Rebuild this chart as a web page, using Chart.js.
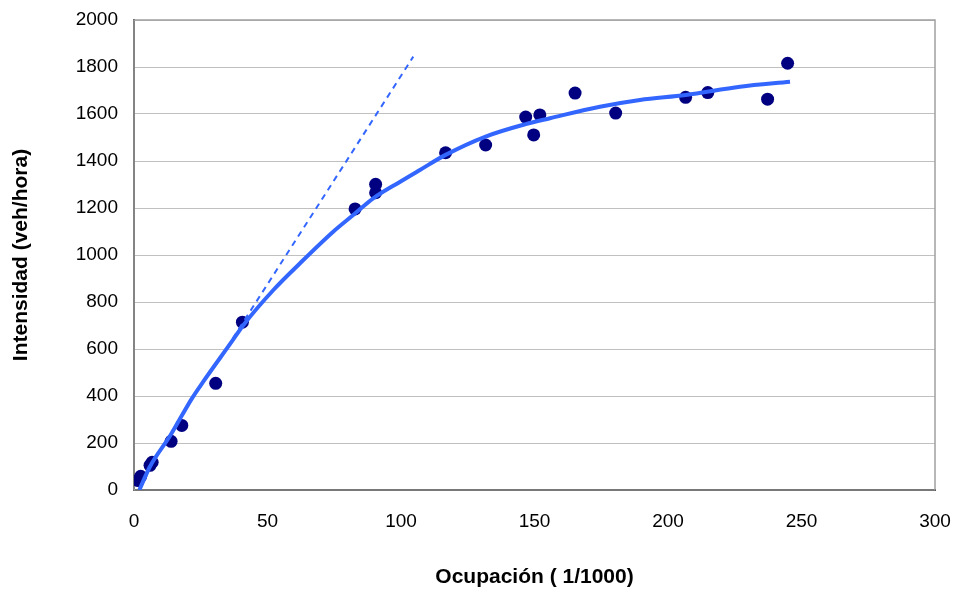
<!DOCTYPE html>
<html>
<head>
<meta charset="utf-8">
<script src="https://cdn.jsdelivr.net/npm/chart.js@4/dist/chart.umd.min.js"></script>
<style>
  html, body { margin: 0; padding: 0; background: #ffffff; }
  #wrap { width: 956px; height: 592px; position: relative; }
</style>
</head>
<body>
<div id="wrap"><canvas id="c" width="956" height="592"></canvas></div>
<script>
// Observed points (ocupación, intensidad)
const obsOcupacion = [1.5, 2.5, 6, 6.8, 13.9, 17.9, 30.6, 40.6, 82.8, 90.5, 90.5, 116.7, 131.7, 146.7, 149.7, 152, 165.2, 180.4, 206.6, 214.9, 237.3, 244.8];
const obsIntensidad = [40, 58, 105, 118, 207, 275, 454, 714, 1196, 1265, 1301, 1435, 1468, 1587, 1511, 1596, 1689, 1604, 1671, 1691, 1663, 1816];

// Fitted curve
const curveOcupacion = [2, 6, 13.7, 21.6, 26, 36.6, 41, 52.2, 62.2, 74.6, 82.1, 89.6, 99.7, 107.1, 116.7, 131.7, 146.7, 155.8, 174.5, 189.5, 206.6, 227, 245.7];
const curveIntensidad = [0, 100, 234, 388, 462, 631, 702, 851, 965, 1099, 1170, 1241, 1312, 1362, 1426, 1504, 1557, 1582, 1631, 1660, 1681, 1716, 1737];

// Dashed tangent line
const tangentOcupacion = [37, 104.6];
const tangentIntensidad = [645, 1844];

// Axis ticks
const xTicks = [0, 50, 100, 150, 200, 250, 300];
const yTicks = [0, 200, 400, 600, 800, 1000, 1200, 1400, 1600, 1800, 2000];

const toXY = (xs, ys) => xs.map((x, i) => ({ x: x, y: ys[i] }));

const frame = {
  id: 'frame',
  beforeDatasetsDraw(chart) {
    const { ctx, chartArea: a } = chart;
    ctx.save();
    ctx.strokeStyle = '#a0a0a0';
    ctx.lineWidth = 1.5;
    ctx.strokeRect(a.left, a.top, a.right - a.left, a.bottom - a.top);
    ctx.restore();
  }
};

const FONT = '"Liberation Sans", Arial, sans-serif';

new Chart(document.getElementById('c'), {
  type: 'scatter',
  data: {
    datasets: [
      {
        label: 'Curva',
        type: 'line',
        data: toXY(curveOcupacion, curveIntensidad),
        borderColor: '#3366FF',
        borderWidth: 4,
        pointRadius: 0,
        fill: false,
        cubicInterpolationMode: 'monotone',
        order: 0
      },
      {
        label: 'Tangente',
        type: 'line',
        data: toXY(tangentOcupacion, tangentIntensidad),
        borderColor: '#3366FF',
        borderWidth: 2,
        borderDash: [6, 5],
        pointRadius: 0,
        fill: false,
        order: 1
      },
      {
        label: 'Datos',
        data: toXY(obsOcupacion, obsIntensidad),
        backgroundColor: '#000080',
        borderColor: '#000080',
        pointRadius: 6.5,
        borderWidth: 0,
        order: 2
      }
    ]
  },
  options: {
    responsive: false,
    animation: false,
    layout: { padding: { left: 0, top: 20, right: 21, bottom: 0 } },
    plugins: { legend: { display: false }, tooltip: { enabled: false } },
    scales: {
      x: {
        type: 'linear',
        min: 0, max: 300,
        afterFit(s) { s.height = 102; s.paddingLeft = 0; s.paddingRight = 0; },
        afterBuildTicks(s) { s.ticks = xTicks.map(v => ({ value: v })); },
        grid: { display: false, drawTicks: false },
        border: { display: true, color: '#000000', width: 2 },
        ticks: { padding: 20, color: '#000000', font: { family: FONT, size: 19 }, maxRotation: 0,
                 callback: v => String(v) },
        title: { display: true, text: 'Ocupación ( 1/1000)', color: '#000000', padding: { top: 0, bottom: 2 },
                 font: { family: FONT, size: 21, weight: 'bold' } }
      },
      y: {
        type: 'linear',
        min: 0, max: 2000,
        afterFit(s) { s.width = 134; s.paddingTop = 0; s.paddingBottom = 0; },
        afterBuildTicks(s) { s.ticks = yTicks.map(v => ({ value: v })); },
        grid: { color: '#c0c0c0', lineWidth: 1, drawTicks: false },
        border: { display: true, color: '#333333', width: 2 },
        ticks: { padding: 16, color: '#000000', font: { family: FONT, size: 19 },
                 callback: v => String(v) },
        title: { display: true, text: 'Intensidad (veh/hora)', color: '#000000', padding: { top: 9, bottom: 0 },
                 font: { family: FONT, size: 21, weight: 'bold' } }
      }
    }
  },
  plugins: [frame]
});
</script>
</body>
</html>
